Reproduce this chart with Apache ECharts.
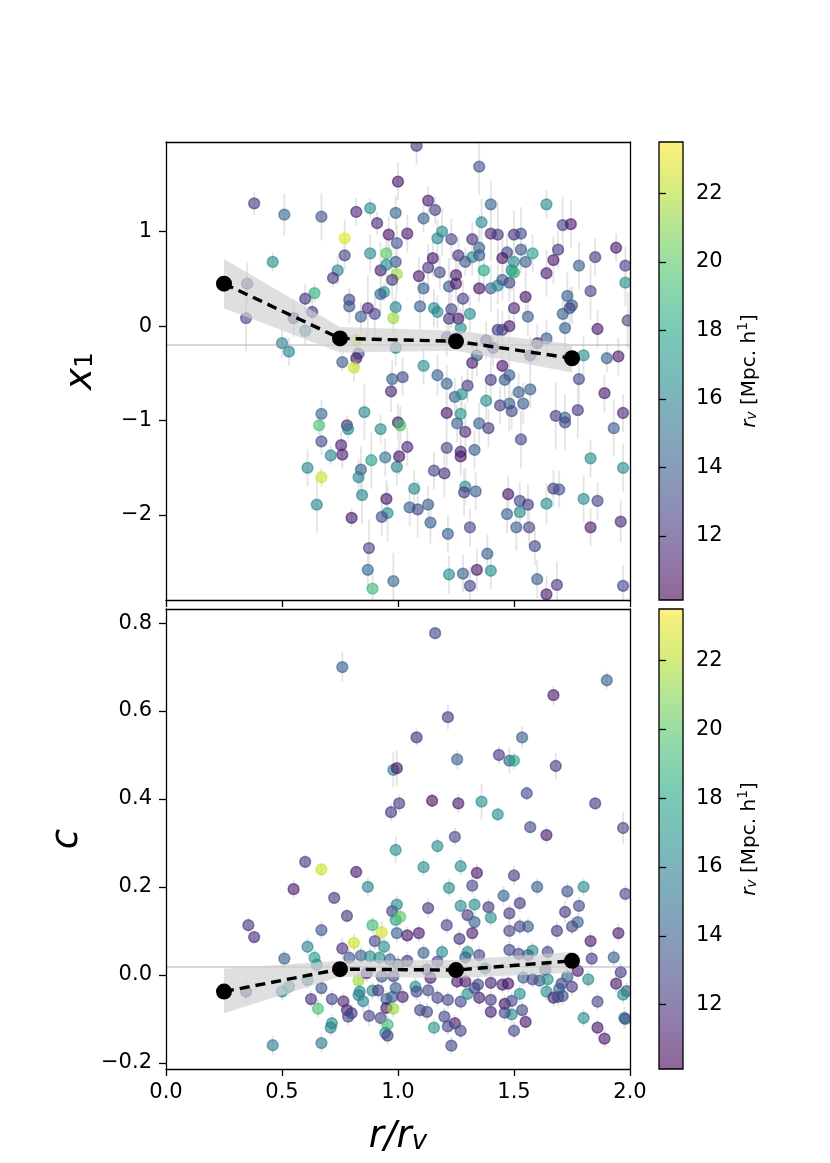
<!DOCTYPE html>
<html>
<head>
<meta charset="utf-8">
<script src="https://cdn.jsdelivr.net/npm/echarts@6/dist/echarts.min.js"></script>
<style>html,body{margin:0;padding:0;background:#fff;}#c{width:830px;height:1163px;}</style>
</head>
<body>
<div id="c"></div>
<script>
// ---------- DATA ----------
// each point: [r/rv, value, rv (Mpc h^-1), error]
const x1Points = [
[0.38,1.30,12.2,0.12],[0.51,1.18,14.5,0.22],[0.67,1.16,13.5,0.25],[0.82,1.21,11.5,0.15],[0.88,1.25,16.5,0.10],
[1.00,1.53,10.8,0.20],[0.99,1.20,14.2,0.18],[0.91,1.09,11.5,0.12],[0.96,0.97,11.0,0.20],[0.77,0.93,23.0,0.20],
[0.77,0.75,12.5,0.15],[0.88,0.77,16.5,0.20],[0.95,0.77,20.0,0.25],[0.995,0.88,13.5,0.20],[0.46,0.68,16.5,0.10],
[0.35,0.45,12.5,0.22],[0.345,0.085,12.8,0.35],[0.74,0.59,16.0,0.15],[0.72,0.51,12.0,0.10],[0.64,0.35,18.5,0.10],
[0.60,0.29,11.8,0.15],[0.63,0.15,12.0,0.22],[0.55,0.085,12.0,0.20],[0.60,-0.05,15.5,0.15],[0.50,-0.18,16.0,0.15],
[0.53,-0.27,16.0,0.15],[0.79,0.28,12.5,0.12],[0.79,0.21,13.5,0.18],[0.84,0.10,14.0,0.15],[0.87,0.19,11.3,0.35],
[0.90,0.13,12.5,0.25],[0.925,0.59,11.2,0.30],[0.995,0.55,21.5,0.20],[0.94,0.36,17.0,0.10],[0.925,0.34,14.0,0.20],
[0.975,0.49,12.0,0.20],[0.99,0.68,13.5,0.20],[0.95,0.65,16.5,0.25],[0.99,0.20,16.0,0.15],[0.98,0.085,21.5,0.20],
[0.82,-0.15,22.5,0.10],[0.83,-0.29,13.5,0.15],[0.82,-0.34,11.0,0.15],[0.76,-0.38,14.0,0.10],[0.81,-0.44,22.5,0.15],
[0.99,-0.23,16.0,0.20],
[1.08,1.91,12.2,0.20],[1.35,1.69,13.5,0.30],[1.13,1.33,11.0,0.15],[1.16,1.23,12.5,0.15],[1.11,1.14,14.0,0.15],
[1.40,1.29,14.2,0.25],[1.64,1.29,16.5,0.15],[1.04,0.98,11.0,0.20],[1.19,1.00,16.5,0.25],[1.17,0.93,16.0,0.20],
[1.23,0.92,12.8,0.22],[1.32,0.92,11.8,0.18],[1.36,1.10,16.5,0.25],[1.40,0.98,11.5,0.30],[1.43,0.97,12.2,0.35],
[1.50,0.97,11.8,0.25],[1.53,0.98,13.0,0.28],[1.71,1.07,12.5,0.30],[1.745,1.08,11.0,0.25],[1.35,0.83,14.0,0.35],
[1.32,0.73,16.5,0.20],[1.35,0.75,14.0,0.22],[1.26,0.75,11.8,0.20],[1.29,0.68,13.5,0.15],[1.15,0.72,10.8,0.20],
[1.13,0.62,12.2,0.25],[1.18,0.57,13.0,0.18],[1.09,0.53,11.0,0.20],[1.11,0.40,14.0,0.15],[1.22,0.42,13.5,0.30],
[1.25,0.54,11.0,0.20],[1.25,0.45,11.0,0.18],[1.37,0.59,18.0,0.20],[1.35,0.40,10.8,0.15],[1.40,0.40,14.0,0.25],
[1.43,0.43,16.5,0.20],[1.45,0.49,14.0,0.22],[1.48,0.46,12.8,0.20],[1.47,0.78,12.8,0.20],[1.45,0.72,10.8,0.25],
[1.50,0.68,16.5,0.20],[1.49,0.59,16.5,0.22],[1.50,0.57,18.5,0.20],[1.53,0.81,13.5,0.25],[1.55,0.68,14.0,0.20],
[1.58,0.77,17.5,0.20],[1.67,0.70,11.0,0.25],[1.69,0.81,12.2,0.20],[1.64,0.56,11.0,0.25],[1.78,0.64,14.0,0.25],
[1.85,0.73,12.2,0.20],[1.94,0.83,11.0,0.15],[1.98,0.64,12.5,0.20],[1.98,0.46,16.5,0.25],[1.83,0.37,12.5,0.30],
[1.73,0.32,14.0,0.25],[1.75,0.22,14.0,0.20],[1.74,0.19,12.8,0.22],[1.71,0.13,14.0,0.20],[1.55,0.31,10.8,0.20],
[1.50,0.19,11.5,0.18],[1.56,0.10,14.0,0.20],[1.28,0.29,12.5,0.20],[1.095,0.21,14.0,0.25],[1.155,0.19,16.5,0.20],
[1.17,0.15,16.5,0.18],[1.23,0.18,12.8,0.20],[1.22,0.08,12.2,0.22],[1.26,0.08,11.0,0.20],[1.31,0.13,16.5,0.20],
[1.27,-0.02,16.5,0.20],[1.43,-0.04,12.2,0.22],[1.45,-0.04,12.8,0.20],[1.48,0.00,11.0,0.18],[1.72,-0.02,14.0,0.30],
[1.86,-0.03,11.0,0.20],[1.64,-0.13,14.0,0.20],[1.80,-0.31,16.5,0.20],[1.90,-0.34,14.0,0.15],[1.95,-0.32,11.0,0.20],
[1.99,0.06,12.8,0.30],[1.11,-0.42,16.5,0.20],[1.32,-0.39,11.0,0.20],[1.34,-0.31,14.0,0.22],[1.45,-0.42,10.8,0.20],
[1.38,-0.15,12.0,0.20],[1.41,-0.23,12.2,0.20],[1.60,-0.18,11.8,0.20],[1.57,-0.31,13.0,0.20],[1.21,-0.12,13.5,0.20],
[0.975,-0.56,14.0,0.20],[0.97,-0.69,11.5,0.22],[0.67,-0.93,14.5,0.15],[0.66,-1.05,19.5,0.10],[0.78,-1.05,11.5,0.10],
[0.785,-1.09,16.0,0.10],[0.855,-0.91,16.0,0.30],[0.925,-1.09,16.5,0.15],[0.67,-1.22,13.0,0.15],[0.755,-1.26,11.3,0.15],
[0.76,-1.36,11.3,0.15],[0.71,-1.37,16.0,0.10],[0.61,-1.50,16.0,0.20],[0.67,-1.60,22.5,0.10],[0.84,-1.52,14.0,0.25],
[0.83,-1.60,16.0,0.20],[0.885,-1.42,17.5,0.30],[0.945,-1.39,15.0,0.20],[0.995,-1.49,16.0,0.20],[0.845,-1.79,16.0,0.30],
[0.95,-1.83,10.8,0.20],[0.955,-1.98,16.5,0.30],[0.93,-2.02,13.0,0.20],[0.65,-1.89,16.0,0.30],[0.80,-2.03,10.8,0.10],
[0.875,-2.35,12.8,0.30],[0.87,-2.58,14.5,0.20],[0.89,-2.78,19.0,0.20],[0.98,-2.70,14.5,0.30],[1.00,-1.02,11.0,0.20],
[1.01,-1.05,19.5,0.20],[1.005,-1.38,10.8,0.20],
[1.02,-0.54,12.8,0.20],[1.17,-0.52,14.0,0.22],[1.21,-0.61,14.0,0.20],[1.30,-0.63,12.2,0.18],[1.245,-0.75,14.0,0.20],
[1.275,-0.72,16.5,0.20],[1.40,-0.57,12.2,0.25],[1.46,-0.57,14.0,0.20],[1.48,-0.52,14.0,0.22],[1.38,-0.79,16.5,0.20],
[1.44,-0.84,12.2,0.20],[1.48,-0.82,14.0,0.30],[1.49,-0.90,12.8,0.20],[1.52,-0.70,14.0,0.20],[1.57,-0.67,14.0,0.20],
[1.54,-0.82,14.0,0.22],[1.78,-0.56,12.8,0.30],[1.89,-0.71,11.0,0.20],[1.97,-0.92,11.5,0.20],[1.775,-0.89,12.2,0.30],
[1.68,-0.95,12.2,0.35],[1.72,-0.97,14.0,0.20],[1.72,-1.02,12.8,0.30],[1.93,-1.08,14.0,0.30],[1.21,-0.92,10.8,0.20],
[1.27,-0.93,17.0,0.20],[1.255,-1.03,14.0,0.20],[1.35,-1.03,14.0,0.22],[1.39,-1.08,12.2,0.20],[1.29,-1.12,11.5,0.30],
[1.53,-1.20,12.8,0.30],[1.04,-1.28,11.5,0.20],[1.21,-1.29,12.8,0.20],[1.27,-1.33,11.5,0.22],[1.27,-1.38,10.8,0.20],
[1.33,-1.31,14.0,0.20],[1.155,-1.53,12.8,0.20],[1.20,-1.56,11.8,0.25],[1.07,-1.72,16.5,0.20],[1.05,-1.92,14.0,0.20],
[1.085,-1.94,12.8,0.30],[1.13,-1.89,14.0,0.20],[1.14,-2.08,14.0,0.22],[1.215,-2.20,14.0,0.20],[1.29,-1.70,16.5,0.20],
[1.285,-1.76,12.2,0.25],[1.335,-1.75,14.0,0.20],[1.31,-2.13,12.8,0.20],[1.475,-1.78,10.8,0.20],[1.525,-1.85,12.8,0.20],
[1.56,-1.89,12.2,0.22],[1.47,-1.99,14.0,0.20],[1.525,-1.97,16.5,0.20],[1.51,-2.13,14.0,0.25],[1.565,-2.13,12.8,0.20],
[1.59,-2.33,12.8,0.20],[1.64,-1.88,16.5,0.22],[1.67,-1.72,12.2,0.20],[1.695,-1.73,13.5,0.20],[1.80,-1.83,16.5,0.25],
[1.86,-1.85,12.8,0.20],[1.83,-1.40,16.5,0.20],[1.97,-1.50,16.5,0.25],[1.83,-2.13,11.0,0.20],[1.96,-2.07,11.5,0.22],
[1.385,-2.41,14.0,0.20],[1.22,-2.63,16.5,0.20],[1.28,-2.62,14.0,0.20],[1.34,-2.58,11.0,0.22],[1.40,-2.59,16.5,0.20],
[1.31,-2.75,12.8,0.20],[1.60,-2.68,14.0,0.20],[1.685,-2.74,12.2,0.25],[1.64,-2.84,11.0,0.20],[1.97,-2.75,12.8,0.22]
];
const cPoints = [
[0.76,0.70,14.0,0.035],[0.98,0.466,16.0,0.04],[0.995,0.47,11.0,0.04],[0.97,0.37,12.2,0.02],[1.005,0.39,12.2,0.02],
[0.99,0.284,16.5,0.03],[1.16,0.777,12.8,0.015],[1.90,0.67,14.0,0.02],[1.67,0.636,11.0,0.022],[1.215,0.586,12.2,0.028],
[1.08,0.54,11.8,0.02],[1.535,0.54,14.0,0.025],[1.255,0.49,14.0,0.022],[1.435,0.50,12.2,0.02],[1.48,0.487,14.0,0.03],
[1.50,0.487,18.0,0.02],[1.68,0.475,12.2,0.03],[1.555,0.413,13.0,0.015],[1.147,0.396,10.8,0.015],[1.26,0.39,11.0,0.022],
[1.36,0.394,16.5,0.04],[1.43,0.365,16.5,0.015],[1.85,0.39,12.2,0.015],[1.57,0.336,13.0,0.015],[1.64,0.318,11.0,0.02],
[1.97,0.334,12.8,0.035],[1.245,0.314,12.8,0.02],[1.17,0.293,16.5,0.02],
[0.60,0.257,12.2,0.015],[0.67,0.24,22.5,0.015],[0.82,0.234,11.0,0.015],[0.87,0.20,16.0,0.022],[0.55,0.195,11.0,0.02],
[0.725,0.175,12.2,0.015],[0.78,0.134,12.2,0.015],[0.975,0.145,12.2,0.02],[0.995,0.16,16.0,0.02],[0.99,0.125,17.5,0.02],
[1.01,0.132,20.0,0.02],[0.355,0.113,12.2,0.018],[0.38,0.086,11.8,0.015],[0.67,0.102,13.5,0.02],[0.89,0.113,19.0,0.02],
[0.93,0.097,22.5,0.025],[0.995,0.095,14.0,0.02],[0.81,0.073,22.5,0.02],[0.90,0.077,12.8,0.02],[0.94,0.064,16.5,0.02],
[0.61,0.064,16.0,0.02],[0.51,0.037,14.0,0.02],[0.64,0.039,17.5,0.02],[0.76,0.06,11.8,0.025],[0.79,0.039,13.5,0.02],
[0.84,0.044,14.0,0.02],[0.88,0.042,16.5,0.02],[0.92,0.039,16.5,0.02],[0.965,0.035,14.0,0.02],[1.00,0.023,14.0,0.02],
[0.65,0.023,16.5,0.02],[0.83,-0.013,21.5,0.02],[0.865,0.004,11.5,0.02],[0.93,-0.004,13.5,0.02],[0.98,-0.003,12.5,0.02],
[0.61,-0.012,16.0,0.02],[0.53,-0.027,16.0,0.02],[0.50,-0.038,16.0,0.02],[0.345,-0.038,12.5,0.025],[0.67,-0.03,13.5,0.02],
[0.835,-0.038,16.5,0.02],[0.89,-0.036,16.5,0.02],[0.915,-0.035,12.2,0.02],[0.99,-0.03,14.0,0.02],[0.625,-0.055,11.8,0.02],
[0.715,-0.055,12.8,0.02],[0.765,-0.06,11.5,0.02],[0.83,-0.046,16.0,0.02],[0.85,-0.06,16.0,0.025],[0.95,-0.055,14.0,0.02],
[0.975,-0.05,14.0,0.02],[0.655,-0.077,19.5,0.02],[0.78,-0.08,11.3,0.02],[0.80,-0.087,12.2,0.02],[0.785,-0.095,12.8,0.02],
[0.875,-0.093,12.8,0.025],[0.95,-0.075,10.8,0.02],[0.98,-0.077,21.5,0.02],[0.925,-0.098,12.8,0.02],[0.955,-0.113,19.0,0.02],
[0.715,-0.11,16.5,0.02],[0.71,-0.12,16.0,0.02],[0.945,-0.132,16.5,0.02],[0.955,-0.138,12.5,0.02],[0.46,-0.16,15.5,0.022],
[0.67,-0.155,15.5,0.022],
[1.11,0.245,16.5,0.02],[1.27,0.247,16.5,0.02],[1.34,0.232,10.8,0.02],[1.50,0.226,12.2,0.022],[1.22,0.198,16.5,0.02],
[1.32,0.203,12.8,0.02],[1.455,0.18,14.0,0.022],[1.60,0.20,14.0,0.02],[1.73,0.19,13.5,0.02],[1.80,0.20,16.5,0.02],
[1.98,0.184,12.8,0.02],[1.27,0.157,16.5,0.02],[1.33,0.16,16.5,0.02],[1.39,0.154,12.2,0.02],[1.525,0.163,12.2,0.02],
[1.13,0.152,12.2,0.022],[1.30,0.136,12.2,0.02],[1.48,0.14,12.2,0.02],[1.72,0.143,12.2,0.025],[1.78,0.157,12.8,0.02],
[1.40,0.13,16.5,0.02],[1.33,0.12,14.0,0.02],[1.21,0.113,12.8,0.02],[1.525,0.11,12.8,0.02],[1.56,0.11,14.0,0.02],
[1.775,0.12,14.0,0.02],[1.75,0.11,12.8,0.02],[1.685,0.10,12.2,0.02],[1.95,0.095,11.0,0.022],[1.83,0.077,11.0,0.02],
[1.04,0.09,10.8,0.02],[1.09,0.095,11.0,0.02],[1.265,0.082,12.0,0.02],[1.32,0.095,11.3,0.02],[1.48,0.10,12.8,0.02],
[1.11,0.05,14.0,0.02],[1.19,0.052,16.5,0.02],[1.30,0.052,16.5,0.02],[1.35,0.045,12.8,0.02],[1.29,0.04,14.0,0.02],
[1.48,0.057,12.8,0.02],[1.52,0.048,12.8,0.02],[1.58,0.055,16.5,0.02],[1.645,0.052,12.8,0.02],[1.56,0.045,14.0,0.02],
[1.835,0.037,12.2,0.02],[1.93,0.04,14.0,0.02],[1.04,0.032,12.0,0.02],[1.17,0.03,12.8,0.02],[1.125,0.012,13.5,0.02],
[1.375,0.015,16.5,0.02],[1.635,0.012,12.8,0.02],[1.775,0.009,11.0,0.02],[1.96,0.006,12.2,0.02],[1.14,-0.007,11.0,0.02],
[1.255,-0.015,11.0,0.02],[1.29,-0.015,11.0,0.02],[1.345,-0.022,12.8,0.02],[1.40,-0.018,11.3,0.02],[1.45,-0.022,11.3,0.02],
[1.475,-0.02,10.8,0.02],[1.54,-0.006,14.0,0.02],[1.58,-0.01,12.8,0.02],[1.61,-0.013,14.0,0.02],[1.645,-0.01,16.5,0.02],
[1.705,-0.02,12.8,0.02],[1.73,-0.004,14.0,0.02],[1.75,-0.027,12.2,0.02],[1.82,-0.01,16.5,0.02],[1.94,-0.02,11.0,0.02],
[1.985,-0.037,14.0,0.02],[1.97,-0.045,16.5,0.02],[1.075,-0.027,16.5,0.02],[1.02,-0.05,11.3,0.02],[1.08,-0.038,12.8,0.02],
[1.13,-0.035,12.8,0.02],[1.17,-0.052,12.8,0.02],[1.215,-0.057,12.8,0.02],[1.27,-0.061,12.8,0.02],[1.30,-0.043,16.5,0.02],
[1.35,-0.052,11.3,0.02],[1.40,-0.057,12.2,0.02],[1.33,-0.03,12.8,0.02],[1.46,-0.066,10.5,0.02],[1.49,-0.059,12.8,0.02],
[1.525,-0.043,16.5,0.02],[1.64,-0.038,16.5,0.02],[1.67,-0.052,11.3,0.02],[1.69,-0.05,12.8,0.02],[1.71,-0.048,12.8,0.02],
[1.695,-0.032,14.0,0.02],[1.86,-0.061,12.8,0.02],[1.095,-0.08,12.8,0.02],[1.125,-0.084,12.8,0.02],[1.20,-0.095,12.8,0.02],
[1.40,-0.084,11.3,0.02],[1.49,-0.09,16.5,0.02],[1.535,-0.08,12.8,0.02],[1.46,-0.086,12.8,0.02],[1.55,-0.107,11.0,0.02],
[1.245,-0.11,11.0,0.02],[1.215,-0.117,12.8,0.02],[1.27,-0.127,12.8,0.02],[1.155,-0.12,17.0,0.02],[1.50,-0.127,12.8,0.02],
[1.80,-0.098,16.5,0.02],[1.86,-0.12,11.0,0.02],[1.89,-0.145,11.0,0.02],[1.975,-0.098,16.5,0.025],[1.98,-0.10,12.8,0.02],
[1.23,-0.161,12.8,0.02]
];
const binCenters = [0.25, 0.75, 1.25, 1.75];
const x1Mean = [0.45, -0.13, -0.16, -0.34];
const x1Lo   = [0.19, -0.28, -0.26, -0.49];
const x1Hi   = [0.71, -0.01, -0.05, -0.19];
const cMean  = [-0.038, 0.013, 0.011, 0.032];
const cLo    = [-0.087, -0.004, -0.007, 0.005];
const cHi    = [0.014, 0.032, 0.034, 0.052];
const x1Ref = -0.2;
const cRef = 0.018;
const xTicks = [0, 0.5, 1, 1.5, 2];
const x1Ticks = [-2, -1, 0, 1];
const cTicks = [-0.2, 0, 0.2, 0.4, 0.6, 0.8];
const rvTicks = [12, 14, 16, 18, 20, 22];
const xRange = [0, 2];
const x1Range = [-2.9, 1.95];
const cRange = [-0.214, 0.832];
const rvRange = [10.13, 23.5];
const viridis = ['#440154','#482475','#414487','#355f8d','#2a788e','#21918c','#22a884','#44bf70','#7ad151','#bddf26','#fde725'];

// ---------- CHART ----------
const FONT = 'DejaVu Sans';
const TICKFS = 21;
const minus = s => String(s).replace('-', '\u2212');
const chart = echarts.init(document.getElementById('c'), null, {renderer: 'canvas'});

function mainX(gridIndex, pos, labels, name) {
  return {
    type: 'value', gridIndex: gridIndex, position: pos, min: xRange[0], max: xRange[1],
    z: 10,
    axisLine: {show: true, onZero: false, lineStyle: {color: '#000', width: 1.3}},
    axisTick: {show: pos === 'bottom', length: 7, lineStyle: {color: '#000', width: 1.3}, customValues: xTicks},
    axisLabel: {show: labels, customValues: xTicks, margin: 13, color: '#000', fontFamily: FONT, fontSize: TICKFS,
      formatter: v => minus(v.toFixed(1))},
    splitLine: {show: false},
    name: name || '', nameLocation: 'middle', nameGap: 50,
    nameTextStyle: {color: '#000', rich: {
      i: {fontFamily: FONT, fontStyle: 'italic', fontSize: 37, color: '#000', padding: [0,0,9,0]},
      s: {fontFamily: FONT, fontStyle: 'italic', fontSize: 26, color: '#000'}
    }}
  };
}
function mainY(gridIndex, pos, range, ticks, dec, name, gap) {
  return {
    type: 'value', gridIndex: gridIndex, position: pos, min: range[0], max: range[1],
    z: 10,
    axisLine: {show: true, onZero: false, lineStyle: {color: '#000', width: 1.3}},
    axisTick: {show: pos === 'left', length: 7, lineStyle: {color: '#000', width: 1.3}, customValues: ticks},
    axisLabel: {show: pos === 'left', customValues: ticks, margin: 14, color: '#000', fontFamily: FONT, fontSize: TICKFS,
      formatter: v => minus(v.toFixed(dec))},
    splitLine: {show: false},
    name: name || '', nameLocation: 'middle', nameGap: gap || 0, nameRotate: 90,
    nameTextStyle: {color: '#000', rich: {
      i: {fontFamily: FONT, fontStyle: 'italic', fontSize: 37, color: '#000', padding: [0,0,8,0]},
      s: {fontFamily: FONT, fontSize: 25, color: '#000'}
    }}
  };
}
function cbY(gridIndex) {
  return {
    type: 'value', gridIndex: gridIndex, position: 'right', min: rvRange[0], max: rvRange[1], z: 10,
    axisLine: {show: false},
    axisTick: {show: true, length: 7, lineStyle: {color: '#000', width: 1.3}, customValues: rvTicks},
    axisLabel: {show: true, customValues: rvTicks, margin: 13, color: '#000', fontFamily: FONT, fontSize: TICKFS},
    splitLine: {show: false},
    name: '{i|r}{s|v}{n| [Mpc. h}{p|1}{n|]}', nameLocation: 'middle', nameGap: 53, nameRotate: 90,
    nameTextStyle: {color: '#000', rich: {
      i: {fontFamily: FONT, fontStyle: 'italic', fontSize: 20, color: '#000', padding: [0,0,5,0]},
      s: {fontFamily: FONT, fontStyle: 'italic', fontSize: 14, color: '#000'},
      n: {fontFamily: FONT, fontSize: 20, color: '#000', padding: [0,0,5,0]},
      p: {fontFamily: FONT, fontSize: 14, color: '#000', padding: [0,0,18,0]}
    }}
  };
}

function errSeries(data, axis) {
  return {
    type: 'custom', xAxisIndex: axis, yAxisIndex: axis, z: 1, clip: true, silent: true,
    data: data,
    renderItem: (params, api) => {
      const a = api.coord([api.value(0), api.value(1) - api.value(3)]);
      const b = api.coord([api.value(0), api.value(1) + api.value(3)]);
      return {type: 'line', shape: {x1: a[0], y1: a[1], x2: b[0], y2: b[1]},
        style: {stroke: '#e4e4e4', lineWidth: 1.8}};
    }
  };
}
function scatSeries(data, axis) {
  return {
    type: 'custom', xAxisIndex: axis, yAxisIndex: axis, z: 2, clip: true, silent: true,
    data: data, encode: {x: 0, y: 1},
    renderItem: (params, api) => {
      const p = api.coord([api.value(0), api.value(1)]);
      const col = api.visual('color');
      return {type: 'circle', shape: {cx: p[0], cy: p[1], r: 5.4},
        style: {fill: col, stroke: col, lineWidth: 1.5, opacity: 0.6}};
    }
  };
}
function refSeries(v, axis) {
  return {type: 'line', xAxisIndex: axis, yAxisIndex: axis, z: 3, silent: true, symbol: 'none',
    data: [[xRange[0], v], [xRange[1], v]], lineStyle: {color: '#999', width: 0.8}};
}
function bandSeries(lo, hi, axis) {
  const d = binCenters.map((x, i) => [x, lo[i], hi[i]]);
  return {
    type: 'custom', xAxisIndex: axis, yAxisIndex: axis, z: 4, clip: true, silent: true,
    data: d,
    renderItem: (params, api) => {
      if (params.dataIndex !== 0) return null;
      const pts = [];
      for (let i = 0; i < d.length; i++) pts.push(api.coord([d[i][0], d[i][2]]));
      for (let i = d.length - 1; i >= 0; i--) pts.push(api.coord([d[i][0], d[i][1]]));
      return {type: 'polygon', shape: {points: pts}, style: {fill: 'rgba(208,208,208,0.68)'}};
    }
  };
}
function meanSeries(m, axis) {
  return {type: 'line', xAxisIndex: axis, yAxisIndex: axis, z: 5, silent: true,
    data: binCenters.map((x, i) => [x, m[i]]),
    symbol: 'circle', symbolSize: 16, showAllSymbol: true,
    itemStyle: {color: '#000'},
    lineStyle: {color: '#000', width: 3.4, type: [10, 6]}};
}
function cbSeries(axis) {
  return {
    type: 'custom', xAxisIndex: axis, yAxisIndex: axis, z: 2, silent: true,
    data: [[0, rvRange[0], rvRange[1]]],
    renderItem: (params, api) => {
      const a = api.coord([0, rvRange[1]]);
      const b = api.coord([1, rvRange[0]]);
      const n = viridis.length - 1;
      const stops = viridis.map((c, i) => ({offset: 1 - i / n, color: c})).reverse();
      const shape = {x: a[0], y: a[1], width: b[0] - a[0], height: b[1] - a[1]};
      return {type: 'group', children: [
        {type: 'rect', shape: shape, style: {fill: new echarts.graphic.LinearGradient(0, 0, 0, 1, stops), opacity: 0.6}},
        {type: 'rect', shape: shape, style: {fill: 'none', stroke: '#000', lineWidth: 1.3}}
      ]};
    }
  };
}

const option = {
  animation: false,
  backgroundColor: '#fff',
  grid: [
    {left: 166, top: 142, width: 464, height: 458},
    {left: 166, top: 609, width: 464, height: 460},
    {left: 659, top: 142, width: 24, height: 458},
    {left: 659, top: 609, width: 24, height: 460}
  ],
  xAxis: [
    mainX(0, 'bottom', false),
    mainX(0, 'top', false),
    mainX(1, 'bottom', true, '{i|r/r}{s|v}'),
    mainX(1, 'top', false),
    {type: 'value', gridIndex: 2, min: 0, max: 1, show: false},
    {type: 'value', gridIndex: 3, min: 0, max: 1, show: false}
  ],
  yAxis: [
    mainY(0, 'left', x1Range, x1Ticks, 0, '{i|x}{s|1}', 58),
    mainY(0, 'right', x1Range, x1Ticks, 0),
    mainY(1, 'left', cRange, cTicks, 1, '{i|c}', 72),
    mainY(1, 'right', cRange, cTicks, 1),
    cbY(2),
    cbY(3)
  ],
  visualMap: [{
    type: 'continuous', show: false, min: rvRange[0], max: rvRange[1], dimension: 2,
    seriesIndex: [1, 6], inRange: {color: viridis}
  }],
  series: [
    errSeries(x1Points, 0),
    scatSeries(x1Points, 0),
    refSeries(x1Ref, 0),
    bandSeries(x1Lo, x1Hi, 0),
    meanSeries(x1Mean, 0),
    errSeries(cPoints, 2),
    scatSeries(cPoints, 2),
    refSeries(cRef, 2),
    bandSeries(cLo, cHi, 2),
    meanSeries(cMean, 2),
    cbSeries(4),
    cbSeries(5)
  ]
};
chart.setOption(option);
</script>
</body>
</html>
